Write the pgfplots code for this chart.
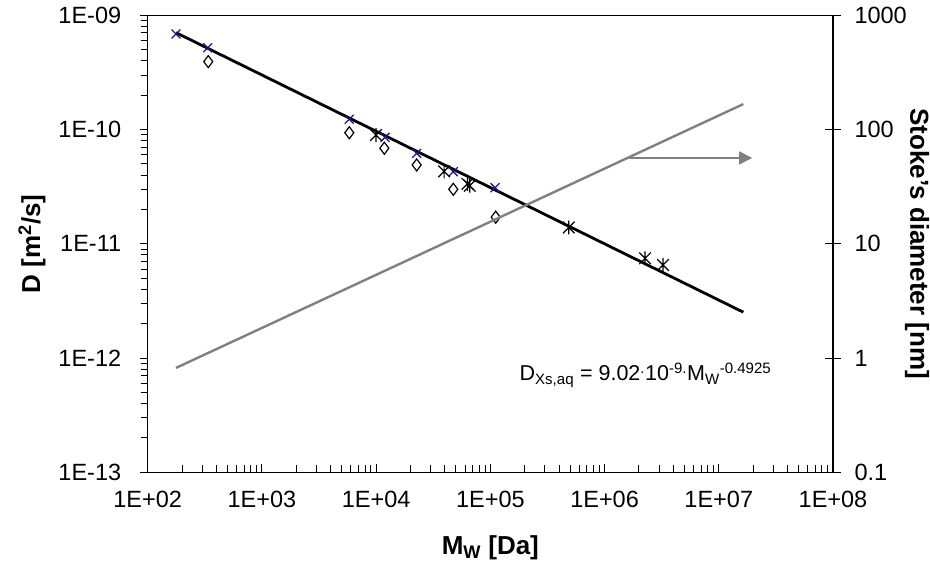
\documentclass[border=0pt]{standalone}
\usepackage{fontspec}
\setmainfont{Liberation Sans}
\usepackage{pgfplots}
\pgfplotsset{compat=1.18}
\usetikzlibrary{arrows.meta}
\definecolor{navyx}{RGB}{25,25,140}
\definecolor{stokegray}{RGB}{128,128,128}
\pgfdeclareplotmark{xstar}{%
  \pgfpathmoveto{\pgfqpoint{-\pgfplotmarksize}{-\pgfplotmarksize}}%
  \pgfpathlineto{\pgfqpoint{\pgfplotmarksize}{\pgfplotmarksize}}%
  \pgfpathmoveto{\pgfqpoint{-\pgfplotmarksize}{\pgfplotmarksize}}%
  \pgfpathlineto{\pgfqpoint{\pgfplotmarksize}{-\pgfplotmarksize}}%
  \pgfpathmoveto{\pgfqpoint{0pt}{-1.2\pgfplotmarksize}}%
  \pgfpathlineto{\pgfqpoint{0pt}{1.2\pgfplotmarksize}}%
  \pgfusepathqstroke}
\pgfplotstableread{
M D
177 6.86e-10
335 5.20e-10
5820 1.23e-10
11970 8.55e-11
22650 6.19e-11
47400 4.28e-11
109900 3.10e-11
}\serX
\pgfplotstableread{
M D
339 3.93e-10
5820 9.37e-11
11800 6.86e-11
22650 4.90e-11
47400 3.00e-11
111400 1.71e-11
}\serDiamond
\pgfplotstableread{
M D
9970 8.95e-11
39400 4.30e-11
63000 3.35e-11
66000 3.22e-11
486000 1.39e-11
2260000 7.46e-12
3250000 6.52e-12
}\serStar
\begin{document}
\begin{tikzpicture}
\useasboundingbox (0,0) rectangle (930pt,577pt);
\begin{axis}[
  at={(147.7pt,104.7pt)}, anchor=south west,
  scale only axis, width=685.3pt, height=457pt,
  xmode=log, ymode=log,
  xmin=1e2, xmax=1e8, ymin=1e-13, ymax=1e-9,
  xtick={1e2,1e3,1e4,1e5,1e6,1e7,1e8},
  xticklabels={1E+02,1E+03,1E+04,1E+05,1E+06,1E+07,1E+08},
  ytick={1e-13,1e-12,1e-11,1e-10,1e-9},
  yticklabels={1E-13,1E-12,1E-11,1E-10,1E-09},
  tick pos=left,
  xtick align=inside, ytick align=outside,
  major tick length=8pt, minor tick length=7pt,
  tick style={black, line width=1pt},
  axis line style={line width=1.2pt},
  tick label style={font=\fontsize{23.5}{27}\selectfont},
  xticklabel style={yshift=-15pt},
  yticklabel style={xshift=-15pt},
  xlabel={M\textsubscript{W} [Da]},
  ylabel={D [m\textsuperscript{2}/s]},
  every axis x label/.style={at={(axis description cs:0.5,-0.1656)}, anchor=center, font=\fontsize{26}{30}\selectfont\bfseries},
  every axis y label/.style={at={(axis description cs:-0.169,0.5)}, anchor=center, rotate=90, font=\fontsize{26}{30}\selectfont\bfseries},
]
\addplot[black, line width=2.8pt] coordinates {(177,7.05e-10) (1.64e7,2.52e-12)};
\addplot[only marks, mark=x, mark size=6.3pt, navyx, mark options={line width=1.3pt}] table[x=M,y=D] {\serX};
\addplot[only marks, mark=diamond*, mark size=6pt, mark options={draw=black, fill=white, line width=1.2pt}] table[x=M,y=D] {\serDiamond};
\addplot[only marks, mark=xstar, mark size=5.8pt, black, mark options={line width=1.2pt}] table[x=M,y=D] {\serStar};
\node[anchor=base west, font=\fontsize{21.5}{25}\selectfont] at (axis cs:1.68e5,6.3e-13)
  {D\textsubscript{Xs,aq} = 9.02\textsuperscript{.}10\textsuperscript{-9.}M\textsubscript{W}\textsuperscript{-0.4925}};
\end{axis}
\begin{axis}[
  at={(147.7pt,104.7pt)}, anchor=south west,
  scale only axis, width=685.3pt, height=457pt,
  xmode=log, ymode=log,
  xmin=1e2, xmax=1e8, ymin=0.1, ymax=1000,
  axis x line=none, axis y line*=right,
  ytick={0.1,1,10,100,1000},
  yticklabels={0.1,1,10,100,1000},
  ytick align=center,
  major tick length=16pt,
  minor y tick style={draw=none},
  tick style={black, line width=1pt},
  axis line style={line width=1.2pt},
  tick label style={font=\fontsize{23.5}{27}\selectfont},
  yticklabel style={xshift=10pt},
  ylabel={Stoke's diameter [nm]},
  every axis y label/.style={at={(axis description cs:1.1226,0.5)}, anchor=center, rotate=-90, font=\fontsize{26}{30}\selectfont\bfseries},
]
\addplot[stokegray, line width=2.4pt] coordinates {(177,0.82) (1.64e7,167)};
\draw[stokegray, line width=1.5pt, -{Triangle[length=13pt,width=13pt]}] (axis cs:1.61e6,56.4) -- (axis cs:1.96e7,56.4);
\end{axis}
\end{tikzpicture}
\end{document}
